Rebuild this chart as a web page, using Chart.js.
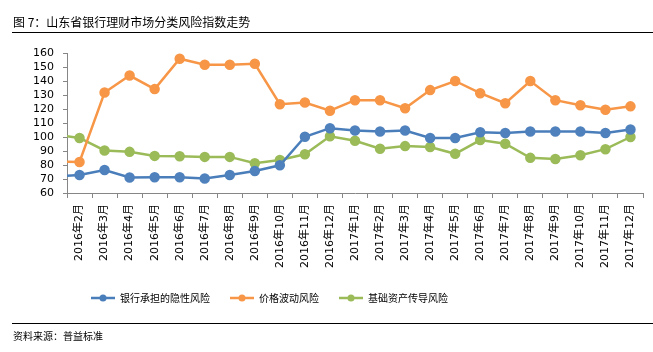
<!DOCTYPE html>
<html>
<head>
<meta charset="utf-8">
<script src="https://cdn.jsdelivr.net/npm/chart.js@4.4.1/dist/chart.umd.min.js"></script>
<style>
  body { margin: 0; background: #fff; }
  #wrap { position: relative; width: 653px; height: 352px; overflow: hidden; }
  #chart { position: absolute; left: 0; top: 0; }
  .title { position: absolute; left: 13px; top: 13px; font: 12px "Noto Sans CJK SC", sans-serif; color: #000; }
  .rule { position: absolute; left: 12px; right: 0; height: 0; border-top: 1px solid #000; }
  .source { position: absolute; left: 13px; top: 328px; font: 10px "Noto Sans CJK SC", sans-serif; color: #000; }
</style>
</head>
<body>
<div id="wrap">
  <canvas id="chart" width="653" height="352"></canvas>
  <div class="title">图 7：山东省银行理财市场分类风险指数走势</div>
  <div class="rule" style="top:32px"></div>
  <div class="rule" style="top:323px"></div>
  <div class="source">资料来源：普益标准</div>
</div>
<script>
// first month sits left of the axis, only its clipped segment shows
const months = ['2016年1月', '2016年2月', '2016年3月', '2016年4月', '2016年5月', '2016年6月', '2016年7月',
  '2016年8月', '2016年9月', '2016年10月', '2016年11月', '2016年12月', '2017年1月', '2017年2月',
  '2017年3月', '2017年4月', '2017年5月', '2017年6月', '2017年7月', '2017年8月', '2017年9月',
  '2017年10月', '2017年11月', '2017年12月'];

const seriesNames = ['银行承担的隐性风险', '价格波动风险', '基础资产传导风险'];

const bankRisk = [71.8, 72.8, 76.4, 71.1, 71.3, 71.3, 70.4, 72.8, 75.7, 79.8, 100.2, 106.3,
  104.6, 103.9, 104.6, 99.3, 99.3, 103.4, 102.9, 103.9, 103.9, 103.9, 102.9, 105.3];
const priceRisk = [82.5, 82.2, 131.8, 143.9, 134.2, 155.9, 151.6, 151.6, 152.3, 123.4, 124.6, 118.8,
  126.3, 126.3, 120.5, 133.5, 140.0, 131.3, 124.1, 140.0, 126.3, 122.7, 119.5, 121.9];
const assetRisk = [101.7, 99.3, 90.4, 89.4, 86.5, 86.3, 85.8, 85.8, 81.2, 83.6, 87.7, 100.5,
  97.3, 91.6, 93.5, 92.8, 88.0, 97.8, 95.2, 85.1, 84.3, 87.0, 91.3, 100.0];

const yTicks = [60, 70, 80, 90, 100, 110, 120, 130, 140, 150, 160];

const lineColors = ['#4a7ebb', '#f79646', '#9bbb59'];
const dotColors = ['#4f81bd', '#f79646', '#9bbb59'];

function legendIcon(color) {
    const c = document.createElement('canvas');
    c.width = 24;
    c.height = 10;
    const g = c.getContext('2d');
    g.strokeStyle = color;
    g.lineWidth = 2.5;
    g.beginPath();
    g.moveTo(0, 5);
    g.lineTo(24, 5);
    g.stroke();
    g.fillStyle = color;
    g.beginPath();
    g.arc(12, 5, 3.5, 0, Math.PI * 2);
    g.fill();
    return c;
}

const grey = '#868686';
const tickFont = { family: '"DejaVu Sans", "Noto Sans CJK SC", sans-serif', size: 11 };

const data = [bankRisk, priceRisk, assetRisk];

// legend in the reference sits left of centre
const legendShift = {
    id: 'legendShift',
    afterUpdate(chart) {
        chart.legend.left -= 52;
        chart.legend.right -= 52;
        chart.legend.top -= 2;
        chart.legend.bottom -= 2;
    }
};

new Chart(document.getElementById('chart').getContext('2d'), {
    type: 'line',
    data: {
        labels: months,
        datasets: data.map((vals, i) => ({
            label: seriesNames[i],
            data: vals,
            borderColor: lineColors[i],
            backgroundColor: dotColors[i],
            pointBackgroundColor: dotColors[i],
            pointBorderColor: dotColors[i],
            borderWidth: 2.5,
            pointRadius: 4,
            tension: 0
        }))
    },
    plugins: [legendShift],
    options: {
        responsive: false,
        animation: false,
        layout: { padding: { top: 53, left: 0, right: 10, bottom: 37 } },
        plugins: {
            tooltip: { enabled: false },
            legend: {
                position: 'bottom',
                labels: {
                    usePointStyle: true,
                    pointStyleWidth: 24,
                    padding: 20,
                    color: '#000',
                    font: { family: '"Noto Sans CJK SC", sans-serif', size: 10 },
                    generateLabels: function(chart) {
                        return chart.data.datasets.map((ds, i) => ({
                            text: ds.label,
                            pointStyle: legendIcon(lineColors[i]),
                            fillStyle: dotColors[i],
                            strokeStyle: lineColors[i],
                            lineWidth: 0,
                            hidden: false,
                            datasetIndex: i,
                            fontColor: '#000'
                        }));
                    }
                }
            }
        },
        scales: {
            x: {
                type: 'category',
                min: '2016年2月',
                offset: true,
                grid: { offset: true, drawOnChartArea: false, tickLength: 5, color: grey },
                border: { color: grey },
                ticks: {
                    autoSkip: false,
                    minRotation: 90,
                    maxRotation: 90,
                    padding: 6,
                    color: '#000',
                    font: tickFont
                },
                afterFit: function(scale) { scale.height = 82; }
            },
            y: {
                min: 60,
                max: 160,
                afterBuildTicks: function(scale) { scale.ticks = yTicks.map(v => ({ value: v })); },
                grid: { drawOnChartArea: false, tickLength: 4, color: grey },
                border: { color: grey },
                ticks: { autoSkip: false, padding: 9, color: '#000', font: tickFont },
                afterFit: function(scale) { scale.width = 67; }
            }
        }
    }
});
</script>
</body>
</html>
